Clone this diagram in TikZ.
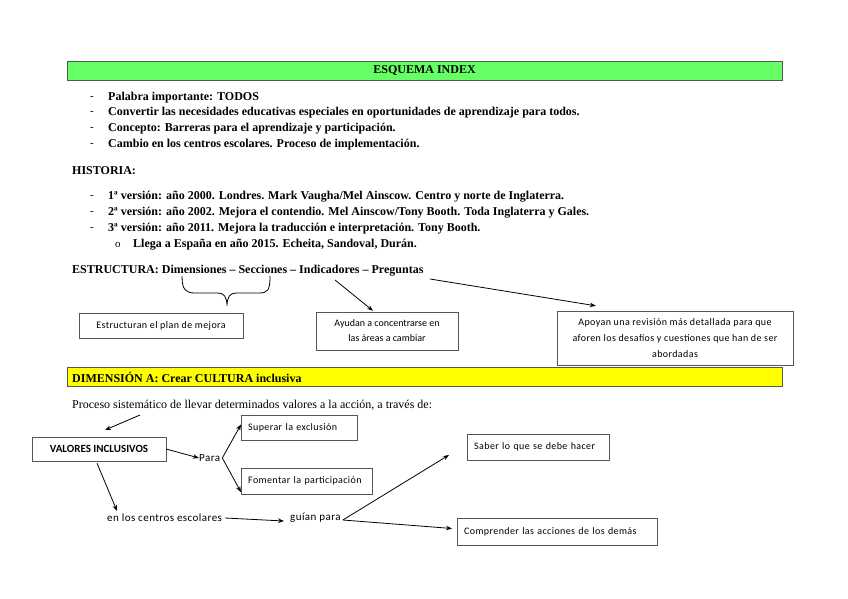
\documentclass[tikz,border=0pt]{standalone}
\usepackage{fontspec}
\setmainfont{Liberation Serif}
\newfontfamily\calfont[LetterSpace=4]{Carlito}
\newfontfamily\calplain{Carlito}
\usetikzlibrary{arrows.meta,calc}
\definecolor{hgreen}{HTML}{66FF66}
\definecolor{hyellow}{HTML}{FFFF00}
\definecolor{edge}{HTML}{555555}
\begin{document}
\begin{tikzpicture}[x=1pt,y=-1pt,
  tb/.style={font=\fontsize{12}{14}\selectfont\bfseries, anchor=west, inner sep=0pt},
  dashmark/.style={font=\fontsize{11}{13}\selectfont, anchor=west, inner sep=0pt},
  bar/.style={draw=edge, minimum height=19pt, inner sep=0pt},
  box/.style={draw=edge, font=\calfont\fontsize{10}{16}\selectfont, align=center, inner sep=0pt},
  lbox/.style={draw=edge, font=\calfont\fontsize{10}{13}\selectfont, align=left, inner xsep=7pt, inner ysep=0pt},
  stext/.style={font=\calfont\fontsize{11}{13}\selectfont, inner sep=0pt},
  arr/.style={-{Stealth[length=6pt,width=4.5pt]}, line width=0.8pt},
  ln/.style={line width=0.8pt}]
\useasboundingbox (0,0) rectangle (848,599);

% title bar
\node (bar1) [bar, fill=hgreen, minimum width=715pt] at (424.5,70.5) {\fontsize{12}{14}\selectfont\bfseries ESQUEMA INDEX};

% bullets
\node (d1) [dashmark] at (90,98) {-};
\node (t1) [tb] at (108,98) {Palabra importante: TODOS};
\node (d2) [dashmark] at (90,113) {-};
\node (t2) [tb] at (108,113) {Convertir las necesidades educativas especiales en oportunidades de aprendizaje para todos.};
\node (d3) [dashmark] at (90,129) {-};
\node (t3) [tb] at (108,129) {Concepto: Barreras para el aprendizaje y participación.};
\node (d4) [dashmark] at (90,145) {-};
\node (t4) [tb] at (108,145) {Cambio en los centros escolares. Proceso de implementación.};

\node (hist) [tb] at (72,171) {HISTORIA:};
\node (d5) [dashmark] at (90,197) {-};
\node (h1) [tb] at (108,197) {1ª versión: año 2000. Londres. Mark Vaugha/Mel Ainscow. Centro y norte de Inglaterra.};
\node (d6) [dashmark] at (90,213) {-};
\node (h2) [tb] at (108,213) {2ª versión: año 2002. Mejora el contendio. Mel Ainscow/Tony Booth. Toda Inglaterra y Gales.};
\node (d7) [dashmark] at (90,229) {-};
\node (h3) [tb] at (108,229) {3ª versión: año 2011. Mejora la traducción e interpretación. Tony Booth.};
\node (o1) [dashmark] at (115,245) {o};
\node (h4) [tb] at (133,245) {Llega a España en año 2015. Echeita, Sandoval, Durán.};

\node (estr) [tb] at (72,271) {ESTRUCTURA: Dimensiones -- Secciones -- Indicadores -- Preguntas};

% brace
\draw[ln] (182,276) .. controls (182,290) and (186,293) .. (195,293) -- (218,293)
  .. controls (224,293) and (227,297) .. (227,306)
  .. controls (227,297) and (230,293) .. (236,293) -- (259,293)
  .. controls (268,293) and (270,290) .. (270,276);

\node (b1) [box, minimum width=164pt, minimum height=25pt] at (161,325.5) {Estructuran el plan de mejora};
\node (b2) [box, font=\calplain\fontsize{10}{15}\selectfont, minimum width=142pt, minimum height=38pt] at (387,331) {Ayudan a concentrarse en\\las áreas a cambiar};
\node (b3) [box, minimum width=236pt, minimum height=54pt] at (675,338) {Apoyan una revisión más detallada para que\\aforen los desafíos y cuestiones que han de ser\\abordadas};

\coordinate (ind) at (335,280);
\coordinate (preg) at (430,279);
\draw[arr] (ind) -- ($(b2.north)+(-14,-1)$);
\draw[arr] (preg) -- ($(b3.north west)+(39,-5)$);

% dimension A
\node (bar2) [bar, fill=hyellow, minimum width=715pt] at (424.5,377) {};
\node (dimA) [tb] at (72,377) {DIMENSIÓN A: Crear CULTURA inclusiva};
\node (proc) [anchor=west, inner sep=0pt, font=\fontsize{12}{14}\selectfont] at (72,405) {Proceso sistemático de llevar determinados valores a la acción, a través de:};

\coordinate (pa) at (140,415);
\coordinate (pb) at (105,430);
\draw[arr] (pa) -- (pb);

\node (val) [draw=edge, minimum width=134pt, minimum height=24pt, inner sep=0pt, font=\calplain\fontsize{11}{13}\selectfont\bfseries] at (99,449) {VALORES INCLUSIVOS};
\node (para) [stext, anchor=west] at (199,458) {Para};
\node (sup) [lbox, text width=102pt, minimum height=25pt, anchor=west] at (241,427.5) {Superar la exclusión};
\node (fom) [lbox, text width=117pt, minimum height=26pt, anchor=west] at (241,481) {Fomentar la participación};
\node (cen) [stext, anchor=west] at (107,518) {en los centros escolares};
\node (gui) [stext, anchor=west] at (290,518) {guían para};
\node (sab) [lbox, text width=128pt, minimum height=26pt, anchor=west] at (467,447) {Saber lo que se debe hacer};
\node (com) [lbox, text width=186pt, minimum height=27pt, anchor=west] at (457,531.5) {Comprender las acciones de los demás};

\draw[arr] (val.east) -- (para.west);
\draw[arr] ($(para.east)+(2,0)$) -- ($(sup.west)+(0,-3)$);
\draw[arr] ($(para.east)+(2,0)$) -- ($(fom.south west)+(0,-2)$);
\draw[arr] ($(val.south)+(-2,2)$) -- ($(cen.north west)+(10,-3)$);
\draw[arr] ($(cen.east)+(3,0)$) -- ($(gui.west)+(-6,3)$);
\coordinate (gs) at ($(gui.east)+(2,2)$);
\draw[arr] (gs) -- ($(sab.west)+(-18,8)$);
\draw[arr] (gs) -- ($(com.west)+(-5,-3)$);
\end{tikzpicture}
\end{document}
